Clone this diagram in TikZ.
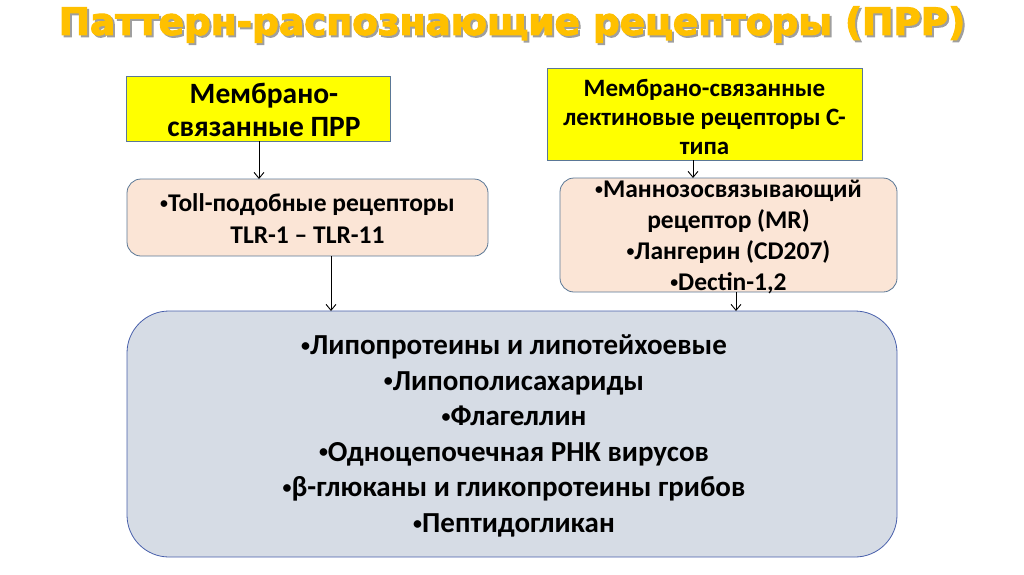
\documentclass[tikz,border=0pt]{standalone}
\usepackage{fontspec}
\setmainfont{Carlito}
\newfontfamily\titlefont[FakeBold=3]{DejaVu Sans}
\usetikzlibrary{arrows.meta}
\definecolor{ttl}{HTML}{FFC000}
\definecolor{ylw}{HTML}{FFFF00}
\definecolor{peach}{HTML}{FBE5D6}
\definecolor{bluebg}{HTML}{D6DCE5}
\definecolor{edge}{HTML}{5A7796}
\newcommand\bul{\raisebox{0.12em}{\scalebox{0.62}{•}}}
\tikzset{
  ybox/.style={draw=edge, fill=ylw, line width=0.8pt},
  pbox/.style={draw=edge, fill=peach, line width=0.8pt, rounded corners=14pt},
  bbox/.style={draw=edge!80!blue, fill=bluebg, line width=0.8pt, rounded corners=42pt},
  conn/.style={draw=black, line width=0.9pt, -{Straight Barb[length=6pt,width=10pt]}},
  txt/.style={align=center, inner sep=0pt, font=\bfseries},
}
\begin{document}
\begin{tikzpicture}[x=1pt,y=-1pt]
\useasboundingbox (0,0) rectangle (1024,574);
% title
\node[text=gray!75, font=\titlefont\bfseries\fontsize{37.4}{40}\selectfont] at (514,26.5) {Паттерн-распознающие рецепторы (ПРР)};
\node[text=ttl, font=\titlefont\bfseries\fontsize{37.4}{40}\selectfont] (title) at (512,24.5) {Паттерн-распознающие рецепторы (ПРР)};
% yellow boxes
\draw[ybox] (126,76) rectangle (390,141);
\node[txt, font=\bfseries\fontsize{29.5}{33}\selectfont] (y1) at (264,110) {Мембрано-\\связанные ПРР};
\coordinate (y1b) at (259,141);
\draw[ybox] (547,68) rectangle (862,160);
\node[txt, font=\bfseries\fontsize{25}{29}\selectfont] (y2) at (704.5,117) {Мембрано-связанные\\лектиновые рецепторы С-\\типа};
\coordinate (y2b) at (693,160);
% peach boxes
\draw[pbox] (127,179) rectangle (488,256);
\node[txt, font=\bfseries\fontsize{25.5}{32}\selectfont] (p1) at (307.5,219) {\bul Toll-подобные рецепторы\\TLR-1 – TLR-11};
\coordinate (p1t) at (259,179);
\coordinate (p1b) at (331,256);
\draw[pbox] (560,178) rectangle (897,292);
\node[txt, font=\bfseries\fontsize{25.5}{31}\selectfont] (p2) at (728.5,237) {\bul Маннозосвязывающий\\рецептор (MR)\\\bul Лангерин (CD207)\\\bul Dectin-1,2};
\coordinate (p2t) at (693,178);
\coordinate (p2b) at (736,292);
% big box
\draw[bbox] (127,311) rectangle (897,557);
\node[txt, font=\bfseries\fontsize{29}{35.6}\selectfont] (big) at (514,436) {\bul Липопротеины и липотейхоевые\\\bul Липополисахариды\\\bul Флагеллин\\\bul Одноцепочечная РНК вирусов\\\bul β-глюканы и гликопротеины грибов\\\bul Пептидогликан};
\coordinate (bt1) at (331,311);
\coordinate (bt2) at (736,311);
% connectors
\draw[conn] (y1b) -- (p1t);
\draw[conn] (y2b) -- (p2t);
\draw[conn] (p1b) -- (bt1);
\draw[conn] (p2b) -- (bt2);
\end{tikzpicture}
\end{document}
